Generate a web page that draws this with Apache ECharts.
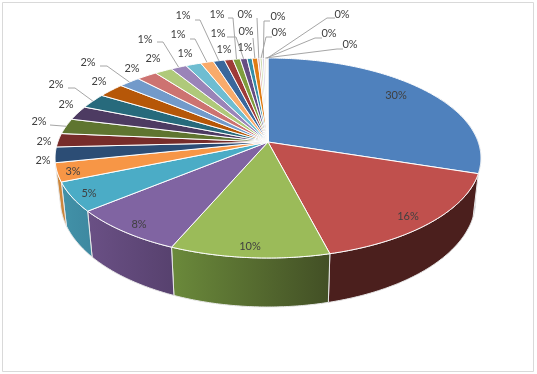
<!DOCTYPE html>
<html><head><meta charset="utf-8">
<style>html,body{margin:0;padding:0;background:#fff}#c{width:537px;height:374px}</style>
<script src="https://cdn.jsdelivr.net/npm/echarts@6/dist/echarts.min.js"></script>
</head><body><div id="c"></div>
<script>
// Data (percent shares, clockwise from 12 o'clock)
const shares = [30,16,10.4,7.6,4.7,3,2.5,2.2,2.5,2.3,2.45,2.35,1.9,1.8,1.55,1.4,1.35,1.15,1,0.75,0.65,0.6,0.45,0.49,0.2,0.2,0.2,0.15,0.08,0.08];
const labels = ['30%','16%','10%','8%','5%','3%','2%','2%','2%','2%','2%','2%','2%','2%','2%','1%','1%','1%','1%','1%','1%','1%','1%','0%','0%','0%','0%','0%','0%','0%'];
// Styles
const topColors = ['#4F81BD','#C0504D','#9BBB59','#8064A2','#4BACC6','#F79646','#2C4D75','#772C2A','#5F7530','#4D3B62','#276A7C','#B65708','#729ACA','#CD7371','#AFC97A','#9A84B8','#6FBDD1','#F9AB6B','#3A679C','#9E3B38','#7F9D3D','#664E83','#358EA6','#E07C14','#D9A6A4','#CDDCAE','#D8CFE3','#F3E6CC','#F0E0C8','#E6E0EC'];
const wallColors = {0:['#3F5F86','#3F5F86'],1:['#4B1F1D','#4B1F1D'],2:['#6B8A3B','#424F25'],3:['#6A5085','#57416E'],4:['#4292A8','#3D88A0'],5:['#D08A3F','#C9853C']};
// Layout: label centre, and optional leader [start x, elbow x, elbow y]
const labelLayout = [
 [396,95],[408,216],[250,246],[139,224],[89,193],[73,171],[43,160],[44,141],
 [39,121,50,50,125],[66,104],[56,84,68,75,88],[99,81],[88,62,100,107,66],[132,68],[153,58],
 [145,39,157,163,42],[185,53],[178,34,190,195,39],[183,15,195,200,20],[224,49],
 [217,14,228,233,18],[218,33,227,236,37],[245,47],
 [246,31,253,253,38],[245,14,257,257,18],[279,32,272,266,37],[278,16,270,264,21],
 [350,44,343,337,49],[329,33,322,315,38],[342,14,335,327,18]];
const CX=268,K=0.16;
const TOP={a:210.2,b:97.44,cy:142}, BOT={a:205,b:104,cy:183.2};
function proj(th,g){const X=Math.sin(th),Y=-Math.cos(th),d=1-K*Y;return [CX+g.a*X/d,g.cy+g.b*Y/d];}
const total=shares.reduce((s,v)=>s+v,0);
function range(i){let s=0;for(let j=0;j<i;j++)s+=shares[j];return [s/total*2*Math.PI,(s+shares[i])/total*2*Math.PI];}
function arc(t0,t1,g){const n=Math.max(2,Math.ceil((t1-t0)/0.01));const p=[];for(let i=0;i<=n;i++)p.push(proj(t0+(t1-t0)*i/n,g));return p;}
const seriesData=shares.map(v=>[v]);
const chart=echarts.init(document.getElementById('c'),null,{renderer:'canvas'});
chart.setOption({
 animation:false,
 graphic:[{type:'rect',shape:{x:2.5,y:2.5,width:531,height:369},style:{fill:'#fff',stroke:'#D9D9D9',lineWidth:1},z:0}],
 series:[
  {type:'custom',coordinateSystem:'none',z:2,silent:true,data:seriesData,dimensions:['share'],
   renderItem(p){const i=p.dataIndex,c=wallColors[i];if(!c)return {type:'group',children:[]};
    let [t0,t1]=range(i);if(i===0)t0=Math.PI/3;
    const pts=arc(t0,t1,TOP).concat(arc(t0,t1,BOT).reverse());
    return {type:'polygon',shape:{points:pts},style:{fill:new echarts.graphic.LinearGradient(0,0,1,0,[{offset:0,color:c[0]},{offset:1,color:c[1]}]),stroke:'#E8E8E8',lineWidth:1}};}},
  {type:'custom',coordinateSystem:'none',z:3,silent:true,data:seriesData,dimensions:['share'],
   renderItem(p){const i=p.dataIndex,[t0,t1]=range(i);
    const pts=[[CX,TOP.cy]].concat(arc(t0,t1,TOP));
    return {type:'polygon',shape:{points:pts},style:{fill:topColors[i],stroke:'#fff',lineWidth:1}};}},
  {type:'custom',coordinateSystem:'none',z:4,silent:true,data:seriesData,dimensions:['share'],
   renderItem(p){const i=p.dataIndex,[t0,t1]=range(i),L=labelLayout[i],kids=[];
    if(L.length>2){const e=proj((t0+t1)/2,TOP);
     kids.push({type:'polyline',shape:{points:[[L[2],L[4]],[L[3],L[4]],e]},style:{fill:null,stroke:'#A6A6A6',lineWidth:1}});}
    kids.push({type:'text',style:{text:labels[i],x:L[0],y:L[1],textAlign:'center',textVerticalAlign:'middle',fill:'#404040',font:'11px Lato, "Open Sans", sans-serif'}});
    return {type:'group',children:kids};}}
 ]
});
</script></body></html>
